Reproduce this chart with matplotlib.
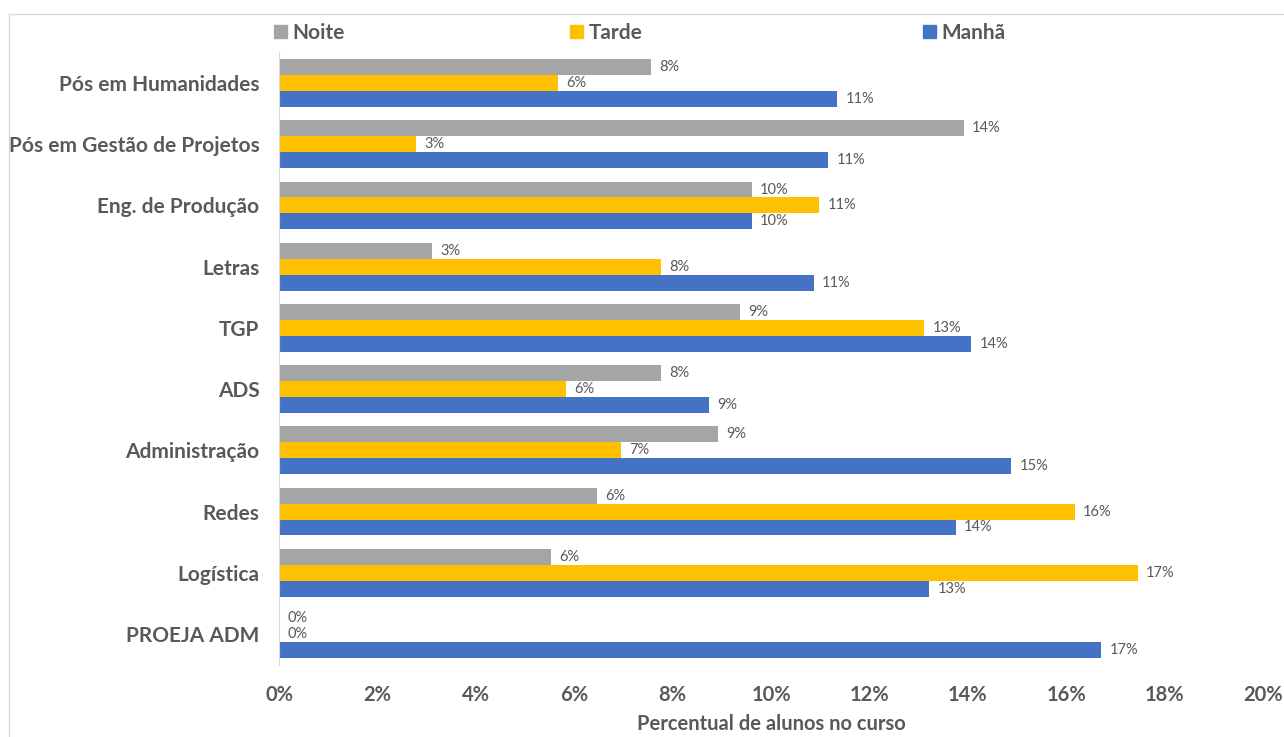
import matplotlib
matplotlib.use("Agg")
import matplotlib.pyplot as plt
from matplotlib.patches import Patch, Rectangle
import numpy as np

categories = ["Pós em Humanidades", "Pós em Gestão de Projetos", "Eng. de Produção",
              "Letras", "TGP", "ADS", "Administração", "Redes", "Logística", "PROEJA ADM"]
noite = [7.56, 13.92, 9.61, 3.11, 9.37, 7.76, 8.92, 6.46, 5.53, 0.0]
tarde = [5.67, 2.78, 10.98, 7.76, 13.11, 5.83, 6.95, 16.17, 17.45, 0.0]
manha = [11.34, 11.16, 9.61, 10.87, 14.07, 8.74, 14.88, 13.75, 13.22, 16.71]
series_names = ["Noite", "Tarde", "Manhã"]
colors = ["#A5A5A5", "#FFC000", "#4472C4"]
xticks = [0, 2, 4, 6, 8, 10, 12, 14, 16, 18, 20]
xlabel = "Percentual de alunos no curso"

plt.rcParams['font.family'] = ['Lato', 'DejaVu Sans']
TXT = "#595959"

fig = plt.figure(figsize=(12.84, 7.37), dpi=100)
W, H = 1284, 737
ax = fig.add_axes([279 / W, 1 - 664.6 / H, (1263 - 279) / W, (664.6 - 52.4) / H])

# chart border
fig.patches.append(Rectangle((9 / W, -0.01), 1.2, 1 - 14 / H + 0.01, transform=fig.transFigure,
                             fill=False, edgecolor="#D9D9D9", linewidth=1.0))

n = len(categories)
y = np.arange(n)
bh = 0.26
offsets = [-bh, 0, bh]
data = [noite, tarde, manha]
for vals, off, col, name in zip(data, offsets, colors, series_names):
    bars = ax.barh(y + off, vals, height=bh, color=col, label=name)
    ax.bar_label(bars, labels=[f"{v:.0f}%" for v in vals], padding=6,
                 fontsize=10.5, color=TXT)

ax.set_ylim(n - 0.5, -0.5)
ax.set_xlim(0, 20)
ax.set_yticks(y)
ax.set_yticklabels(categories, fontsize=15, fontweight="bold", color=TXT)
ax.set_xticks(xticks)
ax.set_xticklabels([f"{t}%" for t in xticks], fontsize=14.5, fontweight="bold", color=TXT)
ax.tick_params(axis="both", length=0)
ax.tick_params(axis="y", pad=14)
ax.tick_params(axis="x", pad=15)
ax.set_xlabel(xlabel, fontsize=14.5, fontweight="bold", color=TXT, labelpad=6)
for s in ["top", "right", "bottom"]:
    ax.spines[s].set_visible(False)
ax.spines["left"].set_color("#D9D9D9")

# legend entries (three separate, at Excel's positions)
leg_x = [274, 570, 923]
for name, col, lx in zip(series_names, colors, leg_x):
    lg = fig.legend(handles=[Patch(facecolor=col, edgecolor=col)], labels=[name],
                    loc="center left", bbox_to_anchor=(lx / W, 1 - 33 / H),
                    frameon=False, handlelength=0.6, handleheight=0.6,
                    handletextpad=0.3, borderpad=0, borderaxespad=0,
                    prop={"size": 15, "weight": "bold"})
    for t in lg.get_texts():
        t.set_color(TXT)

fig.savefig("out.png", dpi=100)
